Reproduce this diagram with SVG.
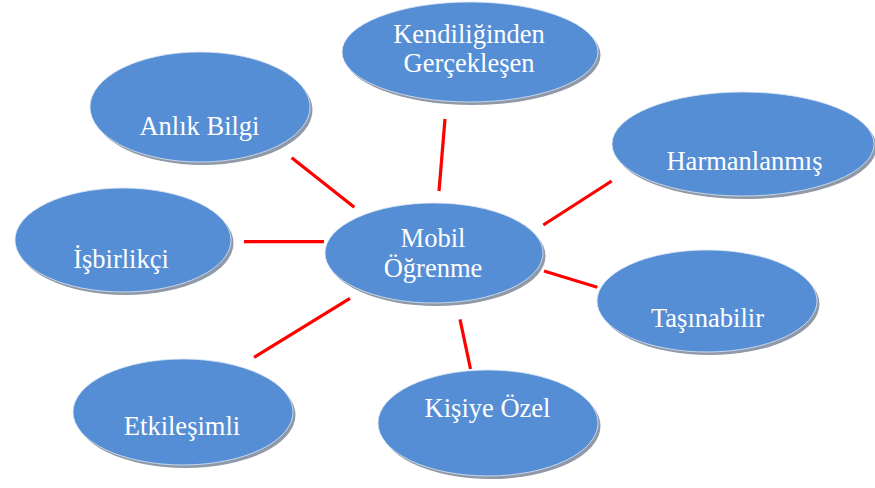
<svg xmlns="http://www.w3.org/2000/svg" width="875" height="488" viewBox="0 0 875 488">
<defs>
<style>
.sh{fill:#8f99a8}
.el{fill:#558ed5;stroke:#dbe6f4;stroke-width:0.8}
.t{font-family:"Liberation Serif","Times New Roman",serif;font-size:26.5px;fill:#ffffff;text-anchor:middle}
.c line{stroke:#ff0000;stroke-width:3.2}
</style>
</defs>
<rect width="875" height="488" fill="#ffffff"/>
<g class="c" id="connectors">
<line x1="291.7" y1="157.7" x2="354.3" y2="207.3"/>
<line x1="445" y1="119" x2="439" y2="191"/>
<line x1="611.7" y1="181" x2="543.3" y2="225"/>
<line x1="244" y1="241.7" x2="324" y2="241.7"/>
<line x1="544" y1="271" x2="597.3" y2="287.3"/>
<line x1="350" y1="298.3" x2="254" y2="357.3"/>
<line x1="460" y1="319.3" x2="470.5" y2="369"/>
</g>
<g id="kendiliginden">
<ellipse class="sh" cx="472.5" cy="55" rx="128" ry="50"/>
<ellipse class="el" cx="470" cy="52" rx="128" ry="50"/>
<text class="t" x="469" y="43">Kendiliğinden</text>
<text class="t" x="469" y="72">Gerçekleşen</text>
</g>
<g id="anlik">
<ellipse class="sh" cx="202.5" cy="110" rx="110" ry="55"/>
<ellipse class="el" cx="200" cy="107" rx="110" ry="55"/>
<text class="t" x="199.5" y="135">Anlık Bilgi</text>
</g>
<g id="harmanlanmis">
<ellipse class="sh" cx="745.5" cy="147" rx="131" ry="52"/>
<ellipse class="el" cx="743" cy="144" rx="131" ry="52"/>
<text class="t" x="744.5" y="170">Harmanlanmış</text>
</g>
<g id="mobil">
<ellipse class="sh" cx="436.5" cy="256" rx="109" ry="50"/>
<ellipse class="el" cx="434" cy="253" rx="109" ry="50"/>
<text class="t" x="433" y="247">Mobil</text>
<text class="t" x="433" y="277">Öğrenme</text>
</g>
<g id="isbirlikci">
<ellipse class="sh" cx="125.5" cy="243" rx="108" ry="52"/>
<ellipse class="el" cx="123" cy="240" rx="108" ry="52"/>
<text class="t" x="121" y="268">İşbirlikçi</text>
</g>
<g id="tasinabilir">
<ellipse class="sh" cx="709.5" cy="304" rx="110" ry="51"/>
<ellipse class="el" cx="707" cy="301" rx="110" ry="51"/>
<text class="t" x="707.5" y="327">Taşınabilir</text>
</g>
<g id="kisiye">
<ellipse class="sh" cx="490.5" cy="426" rx="110" ry="53"/>
<ellipse class="el" cx="488" cy="423" rx="110" ry="53"/>
<text class="t" x="487.5" y="417">Kişiye Özel</text>
</g>
<g id="etkilesimli">
<ellipse class="sh" cx="185.5" cy="415" rx="110" ry="53"/>
<ellipse class="el" cx="183" cy="412" rx="110" ry="53"/>
<text class="t" x="182" y="435">Etkileşimli</text>
</g>
</svg>
